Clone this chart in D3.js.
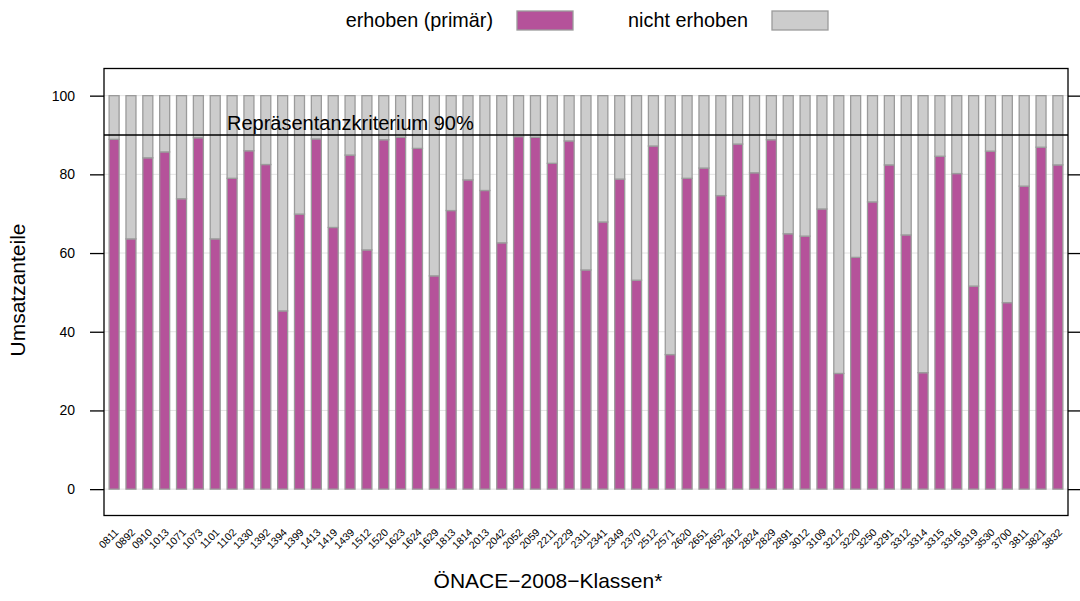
<!DOCTYPE html>
<html>
<head>
<meta charset="utf-8">
<script src="https://cdn.jsdelivr.net/npm/d3@7"></script>
<style>
  html, body { margin: 0; padding: 0; background: #fff; }
  svg { display: block; font-family: "Liberation Sans", Arial, Helvetica, sans-serif; }
</style>
</head>
<body>
<svg id="chart" width="1080" height="601"></svg>
<script>
// ÖNACE-2008 classes on the x axis
const classes = ["0811","0892","0910","1013","1071","1073","1101","1102","1330","1392",
  "1394","1399","1413","1419","1439","1512","1520","1623","1624","1629",
  "1813","1814","2013","2042","2052","2059","2211","2229","2311","2341",
  "2349","2370","2512","2571","2620","2651","2652","2812","2824","2829",
  "2891","3012","3109","3212","3220","3250","3291","3312","3314","3315",
  "3316","3319","3530","3700","3811","3821","3832"];

// Share of turnover covered by the survey (primary), in percent
const erhoben = [88.9,63.6,84.2,85.7,73.8,89.3,63.6,79.0,86.0,82.5,
  45.3,69.9,89.0,66.5,84.9,60.8,88.8,89.4,86.6,54.2,
  70.8,78.6,75.9,62.6,89.6,89.4,82.8,88.5,55.7,67.9,
  78.8,53.1,87.2,34.2,79.0,81.6,74.6,87.7,80.4,88.8,
  64.9,64.3,71.2,29.4,58.9,73.0,82.4,64.6,29.6,84.6,
  80.2,51.6,85.9,47.4,77.0,86.9,82.4];

// Remaining share up to 100 %
const nichtErhoben = erhoben.map(v => 100 - v);

const yTicks = [0, 20, 40, 60, 80, 100];
const criterion = 90;
const seriesNames = ["erhoben (primär)", "nicht erhoben"];
const seriesColors = ["#b5529a", "#cccccc"];

const svg = d3.select("#chart");
const plot = { left: 104, right: 1068, top: 68.5, bottom: 515.5 };

const x = d3.scalePoint()
  .domain(classes)
  .range([plot.left, plot.right])
  .padding(0.6);

const y = d3.scaleLinear()
  .domain([-6.7, 106.9])
  .range([plot.bottom, plot.top]);

const barW = 10;

// horizontal reference grid
svg.append("g")
  .selectAll("line")
  .data(yTicks)
  .join("line")
  .attr("x1", plot.left).attr("x2", plot.right)
  .attr("y1", d => y(d)).attr("y2", d => y(d))
  .attr("stroke", "#e4e4e4").attr("stroke-width", 1);

// stacked bars: surveyed share at the bottom, remainder on top
const rows = classes.map((c, i) => ({ c, a: erhoben[i], b: nichtErhoben[i] }));
const stack = d3.stack().keys(["a", "b"])(rows);

svg.append("g")
  .selectAll("g")
  .data(stack)
  .join("g")
  .attr("fill", (d, i) => seriesColors[i])
  .selectAll("rect")
  .data(d => d)
  .join("rect")
  .attr("x", d => x(d.data.c) - barW / 2)
  .attr("width", barW)
  .attr("y", d => y(d[1]))
  .attr("height", d => y(d[0]) - y(d[1]))
  .attr("stroke", "#9b9b9b")
  .attr("stroke-width", 1.3);

// 90 % criterion line and label
svg.append("line")
  .attr("x1", plot.left).attr("x2", plot.right)
  .attr("y1", y(criterion)).attr("y2", y(criterion))
  .attr("stroke", "#000").attr("stroke-width", 1.3);

svg.append("text")
  .attr("x", 227).attr("y", y(criterion) - 4.5)
  .attr("font-size", 20)
  .attr("fill", "#000")
  .text("Repräsentanzkriterium " + criterion + "%");

// panel frame
svg.append("rect")
  .attr("x", plot.left).attr("y", plot.top)
  .attr("width", plot.right - plot.left).attr("height", plot.bottom - plot.top)
  .attr("fill", "none").attr("stroke", "#000").attr("stroke-width", 1.3);

// left y axis with labels
const yAxisL = d3.axisLeft(y).tickValues(yTicks).tickSize(14).tickPadding(15);
const gL = svg.append("g").attr("transform", `translate(${plot.left},0)`).call(yAxisL);
gL.select(".domain").remove();
gL.selectAll(".tick line").attr("stroke", "#000").attr("stroke-width", 1.3);
gL.selectAll(".tick text").attr("font-size", 14).attr("fill", "#000")
  .attr("font-family", "Liberation Sans, Arial, sans-serif");

// right y axis, ticks only
const yAxisR = d3.axisRight(y).tickValues(yTicks).tickSize(14).tickFormat("");
const gR = svg.append("g").attr("transform", `translate(${plot.right},0)`).call(yAxisR);
gR.select(".domain").remove();
gR.selectAll(".tick line").attr("stroke", "#000").attr("stroke-width", 1.3);

// rotated class labels
svg.append("g")
  .selectAll("text")
  .data(classes)
  .join("text")
  .attr("transform", d => `translate(${x(d) + 5},${533}) rotate(-45)`)
  .attr("text-anchor", "end")
  .attr("font-size", 10.5)
  .attr("fill", "#000")
  .text(d => d);

// axis titles
svg.append("text")
  .attr("x", 548).attr("y", 588)
  .attr("text-anchor", "middle")
  .attr("font-size", 21)
  .text("ÖNACE\u22122008\u2212Klassen*");

svg.append("text")
  .attr("transform", `translate(25,290) rotate(-90)`)
  .attr("text-anchor", "middle")
  .attr("font-size", 21)
  .text("Umsatzanteile");

// legend
const legend = [
  { label: seriesNames[0], color: seriesColors[0], tx: 493, rx: 517 },
  { label: seriesNames[1], color: seriesColors[1], tx: 748, rx: 772 }
];
const lg = svg.append("g");
lg.selectAll("text")
  .data(legend)
  .join("text")
  .attr("x", d => d.tx).attr("y", 27)
  .attr("text-anchor", "end")
  .attr("font-size", 19.8)
  .text(d => d.label);
lg.selectAll("rect")
  .data(legend)
  .join("rect")
  .attr("x", d => d.rx).attr("y", 11)
  .attr("width", 56).attr("height", 19)
  .attr("fill", d => d.color)
  .attr("stroke", "#9b9b9b").attr("stroke-width", 1.3);
</script>
</body>
</html>
